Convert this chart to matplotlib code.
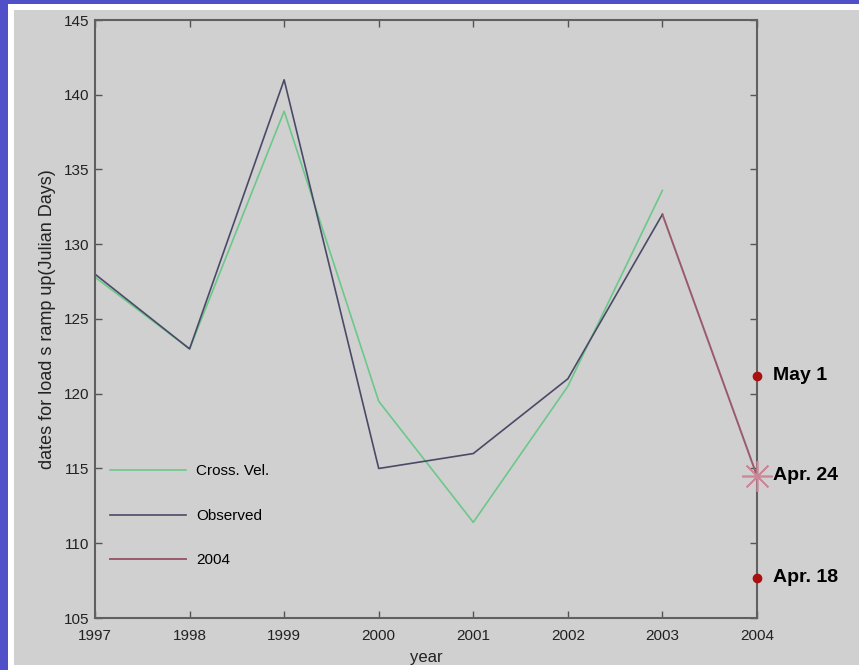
import matplotlib
matplotlib.use("Agg")
import matplotlib.pyplot as plt
from matplotlib.patches import Rectangle

years = [1997, 1998, 1999, 2000, 2001, 2002, 2003, 2004]
cross_val = [127.8, 123.0, 138.9, 119.5, 111.4, 120.5, 133.6]
observed = [128.0, 123.0, 141.0, 115.0, 116.0, 121.0, 132.0]
pred_2004_x = [2003, 2004]
pred_2004_y = [132.0, 114.5]
marker_labels = ["May 1", "Apr. 24", "Apr. 18"]
marker_values = [121.2, 114.5, 107.7]
yticks = [105, 110, 115, 120, 125, 130, 135, 140, 145]

plt.rcParams['font.family'] = ['Liberation Sans', 'DejaVu Sans']

fig = plt.figure(figsize=(8.59, 6.70), dpi=100)
fig.patch.set_facecolor('#5050c8')
# slide-like white frame + grey panel
fig.add_artist(Rectangle((8/859, 0), 1, 1 - 4/670, transform=fig.transFigure,
                         facecolor='white', edgecolor='none', zorder=0))
fig.add_artist(Rectangle((14/859, 5/670), 1, 1 - 15/670, transform=fig.transFigure,
                         facecolor='#d0d0d0', edgecolor='none', zorder=0))

ax = fig.add_axes([95/859, 1 - 618/670, 662/859, 598/670])
ax.set_facecolor('#d0d0d0')

ax.plot(years[:len(cross_val)], cross_val, color='#6cc88a', lw=1.2, label='Cross. Vel.')
ax.plot(years[:len(observed)], observed, color='#4a4a68', lw=1.2, label='Observed')
ax.plot(pred_2004_x, pred_2004_y, color='#9a5a6c', lw=1.4, label='2004')

ax.plot([2004], [marker_values[1]], marker=(8, 2, 0), markersize=22, color='#c88898',
        mew=1.2, clip_on=False, zorder=5)
ax.plot([2004, 2004], [marker_values[0], marker_values[2]], 'o', color='#aa1010',
        markersize=6, clip_on=False, linestyle='none', zorder=5)
for lab, val in zip(marker_labels, marker_values):
    ax.annotate(lab, (2004, val), xytext=(11.5, 0), textcoords='offset points',
                fontsize=14, fontweight='bold', va='center', ha='left',
                annotation_clip=False)

ax.set_xlim(1997, 2004)
ax.set_ylim(105, 145)
ax.set_xticks(years)
ax.set_yticks(yticks)
ax.tick_params(direction='in', length=5, width=1, colors='#555555',
               labelcolor='#222222', labelsize=11, top=True, right=True)
ax.tick_params(axis='x', pad=8)
ax.tick_params(axis='y', pad=4)
for s in ax.spines.values():
    s.set_color('#606060')
    s.set_linewidth(1.5)

ax.set_xlabel('year', fontsize=12, color='#222222', labelpad=5)
ax.set_ylabel("dates for load s ramp up(Julian Days)", fontsize=13, color='#222222', labelpad=6)

leg = ax.legend(loc='upper left', bbox_to_anchor=(0.0227, 0.257), frameon=False,
                handlelength=5.0, labelspacing=2.0, handletextpad=0.65,
                borderpad=0, borderaxespad=0, fontsize=11)

fig.savefig('out.png', dpi=100, facecolor=fig.get_facecolor())
